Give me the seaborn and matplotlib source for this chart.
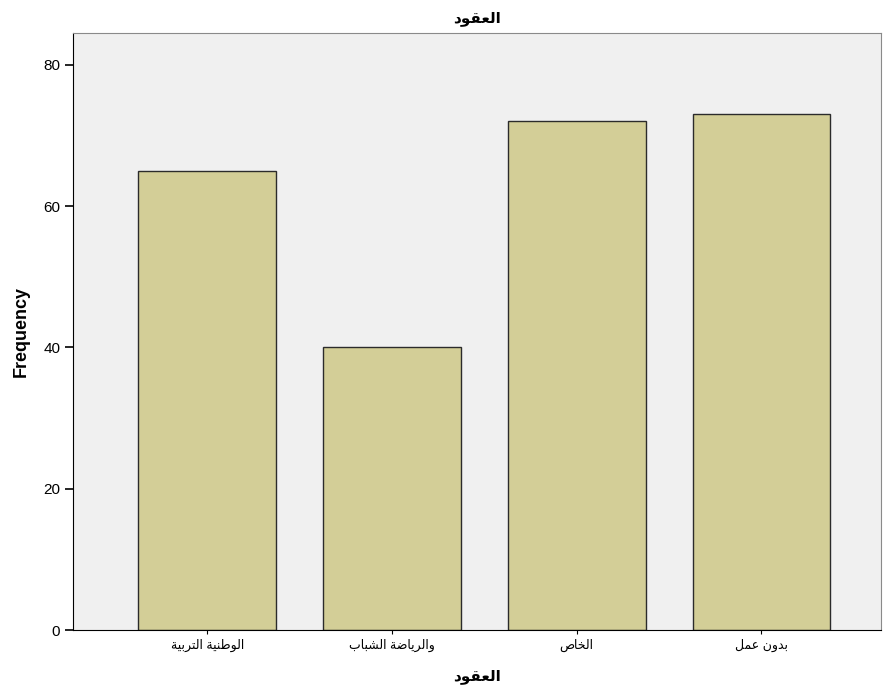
"""Bar chart of contract categories (العقود)."""

import pandas as pd
import seaborn as sns
import matplotlib.pyplot as plt

sns.set_style("white")
plt.rcParams['font.family'] = ['Liberation Sans', 'DejaVu Sans']
plt.rcParams['text.color'] = 'black'
plt.rcParams['axes.labelcolor'] = 'black'
plt.rcParams['xtick.color'] = 'black'
plt.rcParams['ytick.color'] = 'black'

# data
categories = ["الوطنية التربية", "والرياضة الشباب", "الخاص", "بدون عمل"]
frequency = [65, 40, 72, 73]
title_text = "العقود"

# simple arabic shaping (matplotlib has no shaping / bidi)
FORMS = {
    'ا': (0xFE8D, 2), 'ب': (0xFE8F, 4), 'ة': (0xFE93, 2), 'ت': (0xFE95, 4),
    'ث': (0xFE99, 4), 'ج': (0xFE9D, 4), 'ح': (0xFEA1, 4), 'خ': (0xFEA5, 4),
    'د': (0xFEA9, 2), 'ذ': (0xFEAB, 2), 'ر': (0xFEAD, 2), 'ز': (0xFEAF, 2),
    'س': (0xFEB1, 4), 'ش': (0xFEB5, 4), 'ص': (0xFEB9, 4), 'ض': (0xFEBD, 4),
    'ط': (0xFEC1, 4), 'ظ': (0xFEC5, 4), 'ع': (0xFEC9, 4), 'غ': (0xFECD, 4),
    'ف': (0xFED1, 4), 'ق': (0xFED5, 4), 'ك': (0xFED9, 4), 'ل': (0xFEDD, 4),
    'م': (0xFEE1, 4), 'ن': (0xFEE5, 4), 'ه': (0xFEE9, 4), 'و': (0xFEED, 2),
    'ي': (0xFEF1, 4),
}


def shape(text):
    out = []
    for i, ch in enumerate(text):
        if ch not in FORMS:
            out.append(ch)
            continue
        base, n = FORMS[ch]
        prev = text[i - 1] if i > 0 else ''
        nxt = text[i + 1] if i + 1 < len(text) else ''
        joins_prev = prev in FORMS and FORMS[prev][1] == 4
        joins_next = n == 4 and nxt in FORMS
        if joins_prev and joins_next:
            code = base + 3
        elif joins_prev:
            code = base + 1
        elif joins_next:
            code = base + 2
        else:
            code = base
        out.append(chr(code))
    return ''.join(reversed(out))


df = pd.DataFrame({'cat': [shape(c) for c in categories], 'freq': frequency})

fig, ax = plt.subplots(figsize=(8.84, 6.98), dpi=100)
fig.subplots_adjust(left=0.083, right=0.997, top=0.953, bottom=0.097)

sns.barplot(data=df, x='cat', y='freq', color='#D3CE97', saturation=1,
            width=0.746, edgecolor='#2b2b2b', linewidth=1.0, ax=ax)

ax.set_facecolor('#F0F0F0')
ax.set_xlim(-0.724, 3.649)
ax.set_ylim(0, 84.5)
ax.set_yticks([0, 20, 40, 60, 80])

for side in ['top', 'right']:
    ax.spines[side].set_color('#8a8a8a')
for side in ['left', 'bottom']:
    ax.spines[side].set_color('black')
ax.tick_params(axis='y', direction='out', length=6, width=1.2, labelsize=11, left=True)
ax.tick_params(axis='x', direction='out', length=3, width=0.8, labelsize=9, bottom=True)

ax.set_ylabel('Frequency', fontsize=13, fontweight='bold', labelpad=10)
ax.set_xlabel(shape(title_text), fontsize=11, fontweight='bold', labelpad=12)
ax.set_title(shape(title_text), fontsize=11, fontweight='bold', pad=8)

plt.savefig('out.png', dpi=100)
plt.close()
